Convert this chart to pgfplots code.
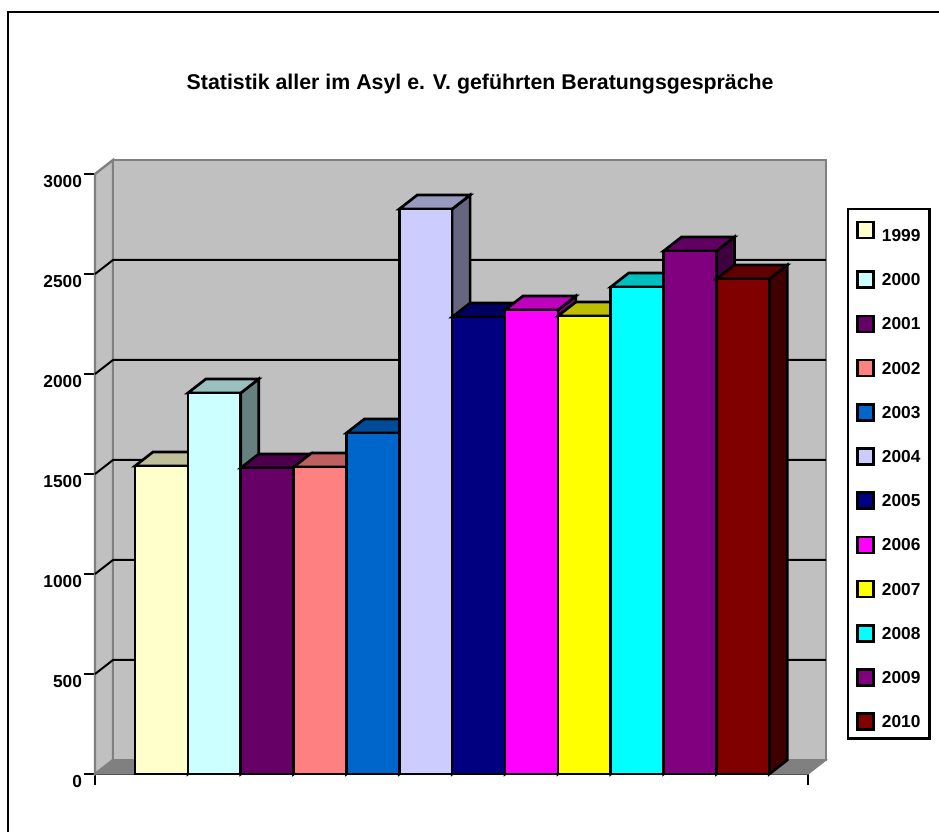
\documentclass[border=0pt]{standalone}
\usepackage{fontspec}
\setmainfont{Liberation Sans}
\usepackage{pgfplots}
\pgfplotsset{compat=1.18}

\definecolor{wall}{HTML}{C0C0C0}
\definecolor{wallline}{HTML}{808080}
\definecolor{c1999}{HTML}{FFFFCC}
\definecolor{c2000}{HTML}{CCFFFF}
\definecolor{c2001}{HTML}{660066}
\definecolor{c2002}{HTML}{FF8080}
\definecolor{c2003}{HTML}{0066CC}
\definecolor{c2004}{HTML}{CCCCFF}
\definecolor{c2005}{HTML}{000080}
\definecolor{c2006}{HTML}{FF00FF}
\definecolor{c2007}{HTML}{FFFF00}
\definecolor{c2008}{HTML}{00FFFF}
\definecolor{c2009}{HTML}{800080}
\definecolor{c2010}{HTML}{800000}

\pgfplotsset{
  face/.style={draw=black,line width=2pt,line join=miter,mark=none,forget plot},
  wallface/.style={draw=wallline,fill=wall,line width=1.8pt,mark=none,forget plot},
  gridline/.style={black,line width=1.5pt,mark=none,forget plot},
  front/.style={ybar,bar width=1,bar shift=0pt,draw=black,line width=2pt,mark=none,
    legend image code/.code={\draw[##1,line width=2pt] (0pt,-5.35pt) rectangle (12pt,6.65pt);}},
}

% one bar: index, value, colour, year
\newcommand{\yearbar}[4]{%
  \pgfmathsetmacro\xl{#1-0.5}%
  \pgfmathsetmacro\xr{#1+0.5}%
  \pgfmathsetmacro\xlb{#1-0.5+0.3405}%
  \pgfmathsetmacro\xrb{#1+0.5+0.3405}%
  \pgfmathsetmacro\vb{#2+70}%
  \edef\tmp{\noexpand\addplot[face,fill=#3!50!black] coordinates {(\xr,0) (\xrb,70) (\xrb,\vb) (\xr,#2)} -- cycle;}\tmp
  \edef\tmp{\noexpand\addplot[face,fill=#3!75!black] coordinates {(\xl,#2) (\xr,#2) (\xrb,\vb) (\xlb,\vb)} -- cycle;}\tmp
  \addplot[front,fill=#3] coordinates {(#1,#2)};
  \addlegendentry{#4}%
}

\begin{document}
\begin{tikzpicture}
\path[use as bounding box] (0pt,0pt) rectangle (704.25pt,624pt);
\draw[black,line width=1.8pt] (6pt,0pt) -- (6pt,615pt) -- (704.25pt,615pt);
\begin{axis}[
  at={(71.25pt,43.5pt)},anchor=south west,
  x=39.645pt,y=0.15pt,
  xmin=-0.2567,xmax=13.2316,ymin=0,ymax=3000,
  clip=false,
  axis lines=left,
  axis line style={-,black,line width=1.8pt},
  tick align=outside,
  major tick length=8pt,
  tick style={black,line width=1.8pt},
  xtick={-0.2567,13.2316},xticklabels={},
  ytick={0,500,1000,1500,2000,2500,3000},
  /pgf/number format/assume math mode=true,
  /pgf/number format/1000 sep={},
  tick label style={font=\bfseries\fontsize{13}{15}\selectfont},
  y tick label style={yshift=-5.5pt,xshift=1.8pt},
  title={Statistik aller im Asyl e. V. geführten Beratungsgespräche},
  title style={at={(axis cs:7.03,3410)},anchor=center,yshift=0pt,font=\bfseries\fontsize{16}{18}\selectfont},
  legend style={at={(axis cs:13.97,2830)},anchor=north west,draw=black,line width=1.8pt,
    font=\bfseries\fontsize{13}{15}\selectfont,
    inner xsep=5.75pt,inner ysep=5.5pt,
    nodes={inner sep=1pt},
    /tikz/every odd column/.append style={column sep=4.5pt},
    row sep=19.15pt},
  legend cell align=left,
]
% walls and floor
\addplot[wallface] coordinates {(-0.2567,0) (0.0838,70) (0.0838,3070) (-0.2567,3000)} -- cycle;
\addplot[wallface] coordinates {(0.0838,70) (13.5721,70) (13.5721,3070) (0.0838,3070)} -- cycle;
\addplot[draw=wallline,fill=wallline,line width=1pt,mark=none,forget plot] coordinates {(-0.2567,0) (13.2316,0) (13.5721,70) (0.0838,70)} -- cycle;
% grid on the walls
\addplot[gridline] coordinates {(-0.2567,500) (0.0838,570) (13.5721,570)};
\addplot[gridline] coordinates {(-0.2567,1000) (0.0838,1070) (13.5721,1070)};
\addplot[gridline] coordinates {(-0.2567,1500) (0.0838,1570) (13.5721,1570)};
\addplot[gridline] coordinates {(-0.2567,2000) (0.0838,2070) (13.5721,2070)};
\addplot[gridline] coordinates {(-0.2567,2500) (0.0838,2570) (13.5721,2570)};
% bars
\yearbar{1}{1540}{c1999}{\rule{0pt}{17.75pt}1999}
\yearbar{2}{1905}{c2000}{2000}
\yearbar{3}{1530}{c2001}{2001}
\yearbar{4}{1535}{c2002}{2002}
\yearbar{5}{1705}{c2003}{2003}
\yearbar{6}{2825}{c2004}{2004}
\yearbar{7}{2285}{c2005}{2005}
\yearbar{8}{2320}{c2006}{2006}
\yearbar{9}{2290}{c2007}{2007}
\yearbar{10}{2435}{c2008}{2008}
\yearbar{11}{2615}{c2009}{2009}
\yearbar{12}{2475}{c2010}{2010}
\end{axis}
\end{tikzpicture}
\end{document}
